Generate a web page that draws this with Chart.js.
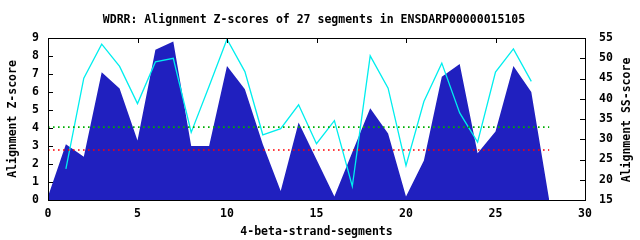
<!DOCTYPE html>
<html>
<head>
<meta charset="utf-8">
<script src="https://cdn.jsdelivr.net/npm/chart.js@4/dist/chart.umd.min.js"></script>
<style>
    html, body { margin: 0; padding: 0; background: #fff; }
    #wrap { width: 640px; height: 240px; }
</style>
</head>
<body>
<div id="wrap"><canvas id="chart" width="640" height="240"></canvas></div>
<script>
// segment positions and scores
const segX = [0, 1, 2, 3, 4, 5, 6, 7, 8, 9, 10, 11, 12, 13, 14, 15, 16, 17, 18, 19, 20, 21, 22, 23, 24, 25, 26, 27, 28];
const zScores = [0.2, 3.1, 2.4, 7.1, 6.2, 3.3, 8.35, 8.8, 3.0, 3.0, 7.45, 6.15, 3.1, 0.5, 4.3, 2.25, 0.2, 2.65, 5.1, 3.7, 0.2, 2.2, 6.85, 7.55, 2.6, 3.8, 7.45, 6.0, 0];
const ssX = [1, 2, 3, 4, 5, 6, 7, 8, 9, 10, 11, 12, 13, 14, 15, 16, 17, 18, 19, 20, 21, 22, 23, 24, 25, 26, 27];
const ssScores = [22.7, 45.1, 53.5, 48.0, 38.8, 49.1, 50.0, 31.7, 43.1, 54.7, 46.7, 31.1, 32.6, 38.5, 28.9, 34.6, 18.4, 50.6, 42.6, 23.5, 39.3, 48.8, 36.5, 29.3, 46.6, 52.3, 44.3];
const thresholdX = [0, 28];
const greenLevel = 4.05;
const redLevel = 2.78;
const xTicks = [0, 5, 10, 15, 20, 25, 30];

const titleText = "WDRR: Alignment Z-scores of 27 segments in ENSDARP00000015105";
const xTitle = "4-beta-strand-segments";
const yTitle = "Alignment Z-score";
const y2Title = "Alignment SS-score";

const monoFont = "bold 11.5px 'DejaVu Sans Mono'";

function toPoints(xs, ys) {
    return xs.map(function (x, i) {
        return {x: x, y: ys[i]};
    });
}

function flatLine(xs, level) {
    return xs.map(function (x) {
        return {x: x, y: level};
    });
}

// gnuplot style frame: box, inward ticks, rotated titles
const framePlugin = {
    id: "frame",
    afterDatasetsDraw: function (chart) {
        var ctx = chart.ctx;
        var a = chart.chartArea;
        var xs = chart.scales.x;
        var ys = chart.scales.y;
        var y2s = chart.scales.y2;
        ctx.save();
        ctx.strokeStyle = "#000";
        ctx.lineWidth = 1;
        ctx.beginPath();
        xs.ticks.forEach(function (t) {
            var px = Math.round(xs.getPixelForValue(t.value)) + 0.5;
            ctx.moveTo(px, a.top);
            ctx.lineTo(px, a.top + 5);
        });
        ys.ticks.forEach(function (t) {
            var py = Math.round(ys.getPixelForValue(t.value)) + 0.5;
            ctx.moveTo(a.left, py);
            ctx.lineTo(a.left + 5, py);
        });
        y2s.ticks.forEach(function (t) {
            var py = Math.round(y2s.getPixelForValue(t.value)) + 0.5;
            ctx.moveTo(a.right, py);
            ctx.lineTo(a.right - 5, py);
        });
        ctx.stroke();
        ctx.strokeRect(Math.round(a.left) + 0.5, Math.round(a.top) + 0.5,
            Math.round(a.right - a.left), Math.round(a.bottom - a.top));

        ctx.fillStyle = "#000";
        ctx.font = monoFont;
        ctx.textAlign = "center";
        ctx.textBaseline = "middle";
        ctx.fillText(titleText, 314, 20);
        ctx.fillText(xTitle, (a.left + a.right) / 2, 232);

        ctx.translate(13, (a.top + a.bottom) / 2);
        ctx.rotate(-Math.PI / 2);
        ctx.fillText(yTitle, 0, 0);
        ctx.restore();

        ctx.save();
        ctx.fillStyle = "#000";
        ctx.font = monoFont;
        ctx.textAlign = "center";
        ctx.textBaseline = "middle";
        ctx.translate(627, (a.top + a.bottom) / 2 + 1);
        ctx.rotate(-Math.PI / 2);
        ctx.fillText(y2Title, 0, 0);
        ctx.restore();
    }
};

new Chart(document.getElementById("chart"), {
    type: "line",
    data: {
        datasets: [
            {
                data: flatLine(thresholdX, greenLevel),
                yAxisID: "y",
                borderColor: "#00b000",
                borderWidth: 1.6,
                borderDash: [1.6, 3.4],
                pointRadius: 0,
                fill: false,
                order: 1
            },
            {
                data: flatLine(thresholdX, redLevel),
                yAxisID: "y",
                borderColor: "#ff0000",
                borderWidth: 1.6,
                borderDash: [1.6, 3.4],
                pointRadius: 0,
                fill: false,
                order: 1
            },
            {
                data: toPoints(ssX, ssScores),
                yAxisID: "y2",
                borderColor: "#00eeee",
                borderWidth: 1.3,
                pointRadius: 0,
                tension: 0,
                fill: false,
                order: 2
            },
            {
                data: toPoints(segX, zScores),
                yAxisID: "y",
                borderWidth: 0,
                borderColor: "rgba(0,0,0,0)",
                backgroundColor: "#2020bf",
                pointRadius: 0,
                tension: 0,
                fill: "origin",
                order: 10
            }
        ]
    },
    options: {
        responsive: false,
        animation: false,
        devicePixelRatio: 1,
        layout: {
            padding: {top: 38, left: 0, right: 0, bottom: 0}
        },
        plugins: {
            legend: {display: false},
            title: {display: false},
            tooltip: {enabled: false}
        },
        scales: {
            x: {
                type: "linear",
                min: 0,
                max: 30,
                afterBuildTicks: function (scale) {
                    scale.ticks = xTicks.map(function (v) { return {value: v}; });
                },
                afterFit: function (scale) { scale.height = 40; },
                grid: {display: false, drawTicks: false},
                border: {display: false},
                ticks: {
                    padding: 7,
                    color: "#000",
                    font: {family: "DejaVu Sans Mono", size: 11.5, weight: "bold"},
                    maxRotation: 0
                }
            },
            y: {
                position: "left",
                min: 0,
                max: 9,
                afterFit: function (scale) { scale.width = 48; },
                grid: {display: false, drawTicks: false},
                border: {display: false},
                ticks: {
                    stepSize: 1,
                    padding: 9,
                    color: "#000",
                    font: {family: "DejaVu Sans Mono", size: 11.5, weight: "bold"}
                }
            },
            y2: {
                position: "right",
                min: 15,
                max: 55,
                afterFit: function (scale) { scale.width = 55; },
                grid: {display: false, drawTicks: false},
                border: {display: false},
                ticks: {
                    stepSize: 5,
                    padding: 14,
                    color: "#000",
                    font: {family: "DejaVu Sans Mono", size: 11.5, weight: "bold"}
                }
            }
        }
    },
    plugins: [framePlugin]
});
</script>
</body>
</html>
